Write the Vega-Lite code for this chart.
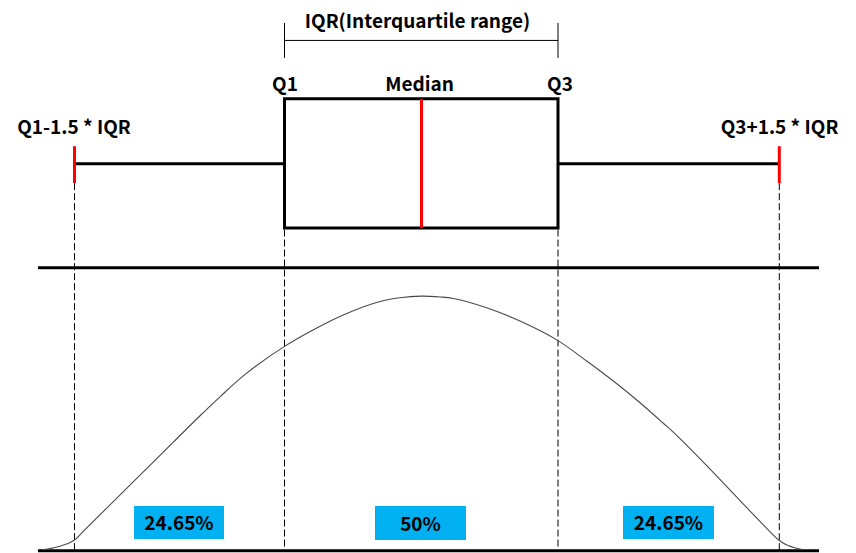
{
  "$schema": "https://vega.github.io/schema/vega-lite/v6.json",
  "width": 856,
  "height": 553,
  "padding": 0,
  "autosize": {"type": "fit", "contains": "padding"},
  "background": "white",
  "config": {"view": {"stroke": null}, "axis": {"disable": true}},
  "datasets": {
    "bracket": [
      {"x": 284.5, "x2": 558, "y": 40.5, "y2": 40.5},
      {"x": 284.5, "x2": 284.5, "y": 23, "y2": 58},
      {"x": 558, "x2": 558, "y": 23, "y2": 58}
    ],
    "box": [{"x": 284.5, "x2": 558, "y": 99, "y2": 228.5}],
    "whisker": [
      {"x": 74.5, "x2": 284.5, "y": 164, "y2": 164},
      {"x": 558, "x2": 779.3, "y": 164, "y2": 164}
    ],
    "redmarks": [
      {"x": 74.5, "x2": 74.5, "y": 146.5, "y2": 183.5},
      {"x": 421.5, "x2": 421.5, "y": 99, "y2": 228.5},
      {"x": 779.3, "x2": 779.3, "y": 146.5, "y2": 183.5}
    ],
    "dashed": [
      {"x": 74.5, "x2": 74.5, "y": 183.5, "y2": 553},
      {"x": 284.5, "x2": 284.5, "y": 230, "y2": 553},
      {"x": 558, "x2": 558, "y": 230, "y2": 553},
      {"x": 779.3, "x2": 779.3, "y": 183.5, "y2": 553}
    ],
    "baselines": [
      {"x": 38, "x2": 819, "y": 268.3, "y2": 268.3},
      {"x": 38, "x2": 819, "y": 551.7, "y2": 551.7}
    ],
    "curve": [
      {"x": 44, "y": 550.6}, {"x": 50, "y": 549.6}, {"x": 60, "y": 547.2},
      {"x": 68, "y": 544.6}, {"x": 74.5, "y": 541}, {"x": 85, "y": 530.5},
      {"x": 106.7, "y": 509}, {"x": 140, "y": 476}, {"x": 173.3, "y": 443},
      {"x": 200, "y": 416.5}, {"x": 220, "y": 397.5}, {"x": 246.7, "y": 373.8},
      {"x": 284.5, "y": 347}, {"x": 313, "y": 330.5}, {"x": 346.7, "y": 314},
      {"x": 380, "y": 302}, {"x": 400, "y": 298.3}, {"x": 421, "y": 296.7},
      {"x": 440, "y": 297.5}, {"x": 453.3, "y": 299}, {"x": 486.7, "y": 308.3},
      {"x": 520, "y": 321.7}, {"x": 557.5, "y": 341}, {"x": 586.7, "y": 361.7},
      {"x": 620, "y": 387}, {"x": 640, "y": 403.5}, {"x": 663.3, "y": 424},
      {"x": 673.3, "y": 433}, {"x": 706.7, "y": 466.5}, {"x": 740, "y": 501.5},
      {"x": 765, "y": 527.5}, {"x": 779.3, "y": 541.5}, {"x": 788, "y": 546.5},
      {"x": 796.7, "y": 549.3}, {"x": 802, "y": 550.6}
    ],
    "pctboxes": [
      {"x": 134, "x2": 224, "y": 507, "y2": 540, "label": "24.65%", "cx": 179, "ty": 531},
      {"x": 375, "x2": 466, "y": 507, "y2": 541, "label": "50%", "cx": 420.5, "ty": 531.5},
      {"x": 623, "x2": 714, "y": 507, "y2": 540, "label": "24.65%", "cx": 668.5, "ty": 531}
    ],
    "labels": [
      {"x": 417.5, "y": 28, "label": "IQR(Interquartile range)"},
      {"x": 285, "y": 91, "label": "Q1"},
      {"x": 419.5, "y": 91, "label": "Median"},
      {"x": 560, "y": 91, "label": "Q3"},
      {"x": 74, "y": 134.5, "label": "Q1-1.5 * IQR"},
      {"x": 779.5, "y": 134.5, "label": "Q3+1.5 * IQR"}
    ]
  },
  "encoding": {
    "x": {"field": "x", "type": "quantitative", "scale": {"domain": [0, 856], "nice": false, "zero": false}, "axis": null},
    "y": {"field": "y", "type": "quantitative", "scale": {"domain": [0, 553], "nice": false, "zero": false, "reverse": true}, "axis": null}
  },
  "layer": [
    {
      "data": {"name": "bracket"},
      "mark": {"type": "rule", "stroke": "black", "strokeWidth": 1},
      "encoding": {"x2": {"field": "x2"}, "y2": {"field": "y2"}}
    },
    {
      "data": {"name": "dashed"},
      "mark": {"type": "rule", "stroke": "black", "strokeWidth": 1, "strokeDash": [7, 3]},
      "encoding": {"x2": {"field": "x2"}, "y2": {"field": "y2"}}
    },
    {
      "data": {"name": "baselines"},
      "mark": {"type": "rule", "stroke": "black", "strokeWidth": 3},
      "encoding": {"x2": {"field": "x2"}, "y2": {"field": "y2"}}
    },
    {
      "data": {"name": "whisker"},
      "mark": {"type": "rule", "stroke": "black", "strokeWidth": 3},
      "encoding": {"x2": {"field": "x2"}, "y2": {"field": "y2"}}
    },
    {
      "data": {"name": "box"},
      "mark": {"type": "rect", "fill": "white", "stroke": "black", "strokeWidth": 3},
      "encoding": {"x2": {"field": "x2"}, "y2": {"field": "y2"}}
    },
    {
      "data": {"name": "redmarks"},
      "mark": {"type": "rule", "stroke": "#ff0000", "strokeWidth": 3},
      "encoding": {"x2": {"field": "x2"}, "y2": {"field": "y2"}}
    },
    {
      "data": {"name": "curve"},
      "mark": {"type": "line", "stroke": "#4a4a4a", "strokeWidth": 1.1, "interpolate": "catmull-rom"},
      "encoding": {"order": {"field": "x", "type": "quantitative"}}
    },
    {
      "data": {"name": "pctboxes"},
      "mark": {"type": "rect", "fill": "#00b0f0", "stroke": null},
      "encoding": {"x2": {"field": "x2"}, "y2": {"field": "y2"}}
    },
    {
      "data": {"name": "pctboxes"},
      "mark": {"type": "text", "font": "Noto Sans CJK KR", "fontWeight": "bold", "fontSize": 19, "color": "black", "align": "center", "baseline": "alphabetic"},
      "encoding": {"x": {"field": "cx", "type": "quantitative"}, "y": {"field": "ty", "type": "quantitative"}, "text": {"field": "label"}}
    },
    {
      "data": {"name": "labels"},
      "mark": {"type": "text", "font": "Noto Sans CJK KR", "fontWeight": "bold", "fontSize": 19, "color": "black", "align": "center", "baseline": "alphabetic"},
      "encoding": {"text": {"field": "label"}}
    }
  ]
}
